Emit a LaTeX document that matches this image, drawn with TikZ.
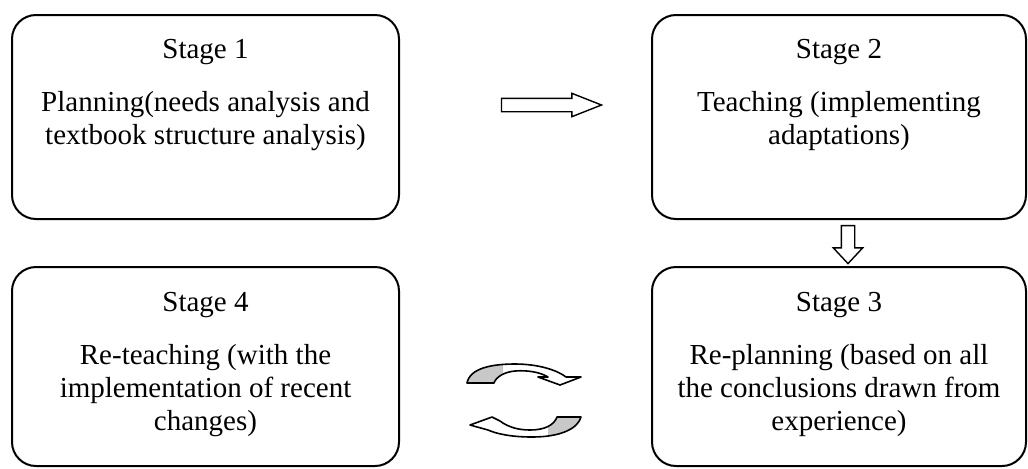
\documentclass[tikz,border=0pt]{standalone}
\usepackage{fontspec}
\setmainfont{Liberation Serif}
\usetikzlibrary{positioning,shapes.arrows}
\definecolor{turngray}{HTML}{C8C8C8}
% curved arrows between stage 4 and stage 3
\newcommand\upperturn{(467,383) .. controls (470,368) and (492,364) .. (515,364) .. controls (538,364) and (557,370) .. (566,377) -- (581,377) -- (560,385) -- (538,377) -- (548,377) .. controls (540,372) and (527,370) .. (515,371) .. controls (504,372) and (496,377) .. (494,383) -- cycle}
\newcommand\lowerturn{(581,417) .. controls (578,428) and (562,437) .. (532,437) .. controls (512,437) and (497,434) .. (488,430) -- (470,425) -- (492,417) -- (500,421) .. controls (508,427) and (518,430) .. (530,430) .. controls (545,430) and (554,425) .. (557,417) -- cycle}

\begin{document}
\begin{tikzpicture}[x=0.5pt,y=-0.5pt,stage/.style={draw,line width=1pt,rounded corners=12pt,minimum height=102pt,inner sep=0pt},stagetext/.style={font=\fontsize{14.5}{16.5}\selectfont,align=center,anchor=base,inner sep=0pt},blockarrow/.style={single arrow,draw,line width=0.7pt,fill=white,inner sep=3pt,single arrow head extend=2.5pt,single arrow tip angle=43},curvarrow/.style={line width=0.8pt,line join=round}]
 \useasboundingbox (0,0) rectangle (1028,468);
 \node[stage,minimum width=193.5pt] (s1) at (205.5,117) {};
 \node[stage,minimum width=187pt] (s2) at (839,117) {};
 \node[stage,minimum width=193.5pt,minimum height=99.5pt] (s4) at (205.5,366.5) {};
 \node[stage,minimum width=187pt,minimum height=99.5pt] (s3) at (839,366.5) {};
 % base of a text node is the baseline of its last line
 \node[stagetext] (t1) at (205.5,144) {Stage 1\\[10pt]Planning(needs analysis and\\textbook structure analysis)};
 \node[stagetext] (t2) at (839,144) {Stage 2\\[10pt]Teaching (implementing\\adaptations)};
 \node[stagetext] (t4) at (205.5,430) {Stage 4\\[10pt]Re-teaching (with the\\implementation of recent\\changes)};
 \node[stagetext] (t3) at (839,430) {Stage 3\\[10pt]Re-planning (based on all\\the conclusions drawn from\\experience)};
 \node[blockarrow,minimum height=50pt] (a12) at (543,105) {};
 \node[blockarrow,minimum height=19pt,rotate=-90,single arrow tip angle=86,single arrow head extend=4pt] (a23) at (848,241) {};
 \begin{scope}
  \clip (460,355) rectangle (503,390);
  \fill[turngray] \upperturn;
 \end{scope}
 \draw[curvarrow] \upperturn;
 \begin{scope}
  \clip (548,410) rectangle (590,445);
  \fill[turngray] \lowerturn;
 \end{scope}
 \draw[curvarrow] \lowerturn;
\end{tikzpicture}
\end{document}
